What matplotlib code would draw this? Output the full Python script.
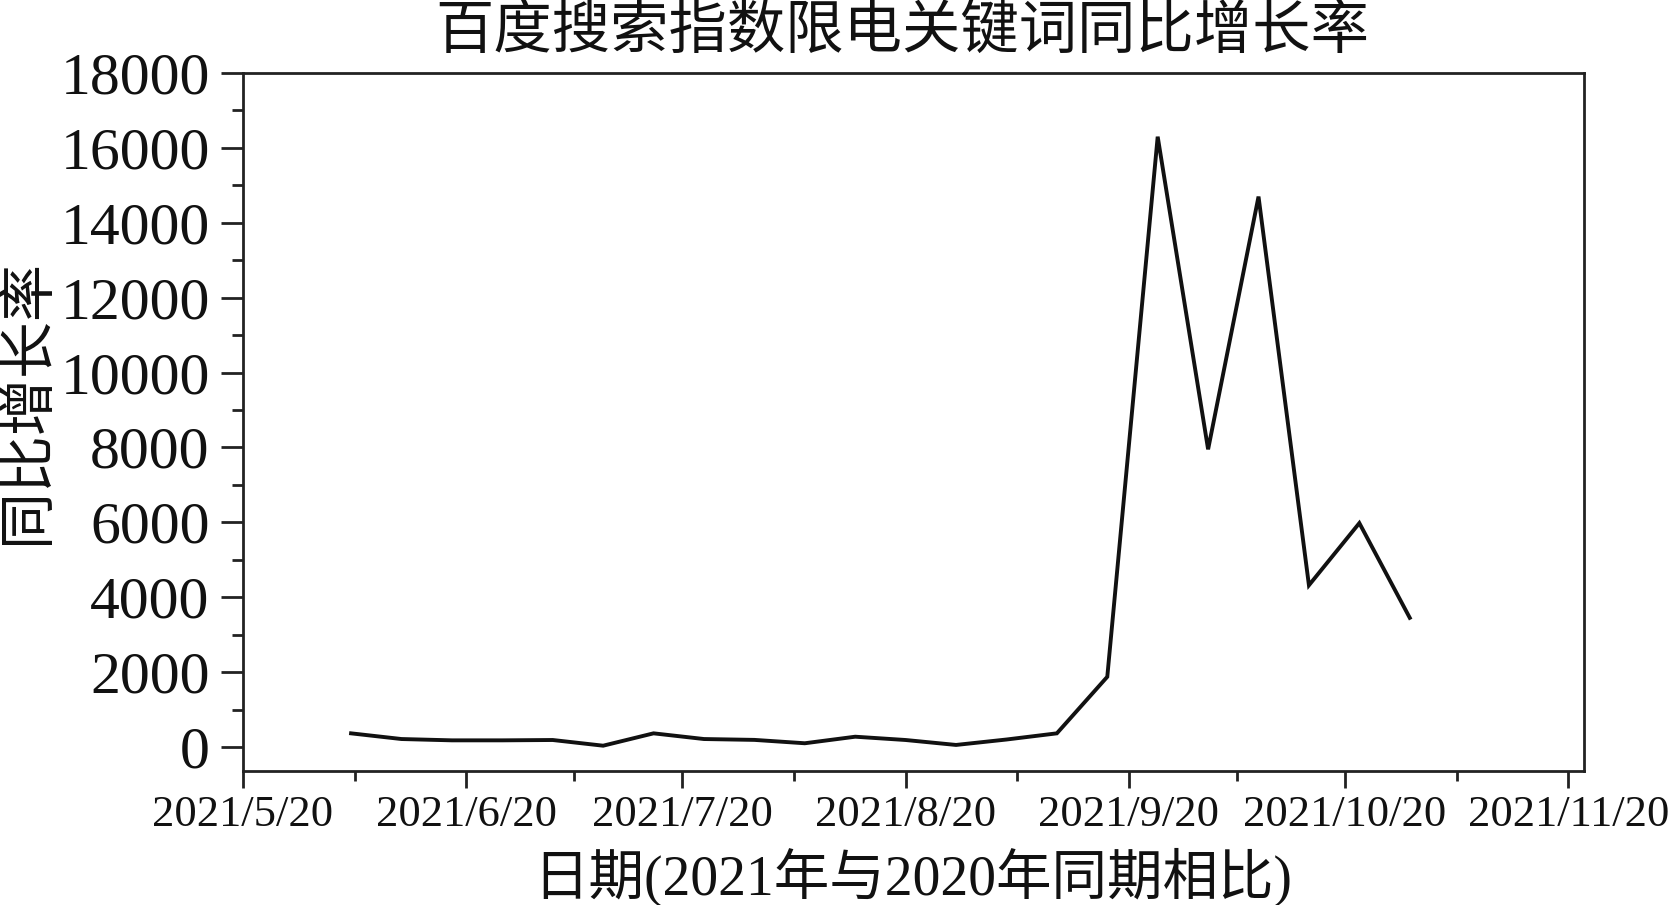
import matplotlib
matplotlib.use("Agg")
import matplotlib.pyplot as plt
import matplotlib.dates as mdates
from matplotlib.ticker import FixedLocator, MultipleLocator
import datetime as dt

# ---- data ----
dates = ["2021-06-04", "2021-06-11", "2021-06-18", "2021-06-25", "2021-07-02",
         "2021-07-09", "2021-07-16", "2021-07-23", "2021-07-30", "2021-08-06",
         "2021-08-13", "2021-08-20", "2021-08-27", "2021-09-03", "2021-09-10",
         "2021-09-17", "2021-09-24", "2021-10-01", "2021-10-08", "2021-10-15",
         "2021-10-22", "2021-10-29"]
values = [365, 213, 178, 178, 187, 35, 365, 213, 190, 100, 275, 187, 55, 200,
          365, 1875, 16300, 7950, 14700, 4320, 5980, 3450]
xtick_dates = ["2021-05-20", "2021-06-20", "2021-07-20", "2021-08-20",
               "2021-09-20", "2021-10-20", "2021-11-20"]
xtick_labels = ["2021/5/20", "2021/6/20", "2021/7/20", "2021/8/20",
                "2021/9/20", "2021/10/20", "2021/11/20"]
title = "百度搜索指数限电关键词同比增长率"
xlabel = "日期(2021年与2020年同期相比)"
ylabel = "同比增长率"

serif_cjk = ["Liberation Serif", "Noto Sans CJK SC", "DejaVu Sans"]
plt.rcParams['font.family'] = serif_cjk

def d(s):
    return mdates.date2num(dt.datetime.strptime(s, "%Y-%m-%d"))

x = [d(s) for s in dates]
xt = [d(s) for s in xtick_dates]
xminor = [(xt[i] + xt[i + 1]) / 2 for i in range(len(xt) - 1)]

fig = plt.figure(figsize=(16.75, 9.05), dpi=100)
ax = fig.add_axes([0.1451, 0.1481, 0.9457 - 0.1451, 0.9193 - 0.1481])

ax.plot(x, values, color="#111111", linewidth=2.8, solid_joinstyle="miter")

ax.set_xlim(xt[0], xt[-1] + 2.2)
ax.set_ylim(-640, 18000)

ax.xaxis.set_major_locator(FixedLocator(xt))
ax.xaxis.set_minor_locator(FixedLocator(xminor))
ax.set_xticklabels(xtick_labels, fontsize=32, family=serif_cjk)

ax.yaxis.set_major_locator(MultipleLocator(2000))
ax.yaxis.set_minor_locator(MultipleLocator(1000))
ax.set_yticks(range(0, 18001, 2000))
ax.set_yticklabels([str(v) for v in range(0, 18001, 2000)], fontsize=43, family=serif_cjk)

for s in ax.spines.values():
    s.set_linewidth(2.0)
    s.set_color("#222222")

ax.tick_params(axis="y", which="major", direction="out", length=16, width=2, pad=8, colors="#222222", labelcolor="#111111")
ax.tick_params(axis="y", which="minor", direction="out", length=8, width=2, colors="#222222")
ax.tick_params(axis="x", which="major", direction="out", length=12, width=2, pad=5, colors="#222222", labelcolor="#111111")
ax.tick_params(axis="x", which="minor", direction="out", length=7, width=2, colors="#222222")

fig.text(0.5385, 0.965, title, ha="center", va="center", fontsize=42,
         family=["Noto Sans CJK SC", "DejaVu Sans"], color="#111111")
fig.text(0.545, 0.030, xlabel, ha="center", va="center", fontsize=40,
         family=serif_cjk, color="#111111")
fig.text(0.016, 0.556, ylabel, ha="center", va="center", rotation=90, fontsize=41,
         family=["Noto Sans CJK SC", "DejaVu Sans"], color="#111111")

fig.savefig("out.png", dpi=100, facecolor="white")
